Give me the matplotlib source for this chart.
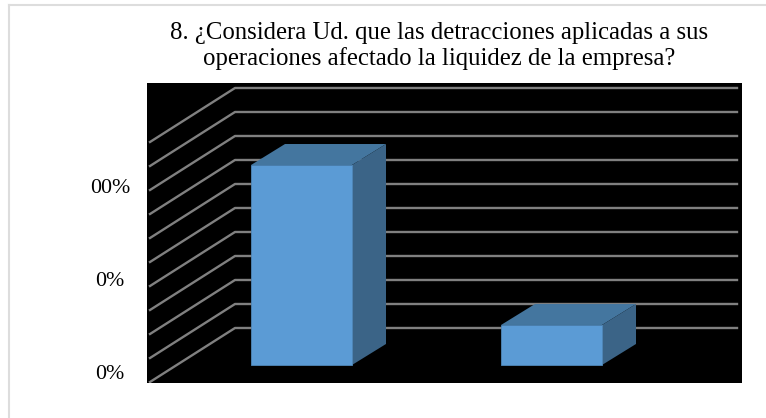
import matplotlib
matplotlib.use("Agg")
import matplotlib.pyplot as plt
from matplotlib.patches import Polygon
from matplotlib.lines import Line2D

plt.rcParams['font.family'] = ['Liberation Serif', 'DejaVu Serif']

title = "8. ¿Considera Ud. que las detracciones aplicadas a sus\noperaciones afectado la liquidez de la empresa?"
positions = [0, 1]
values = [83.33, 16.67]
grid_values = [0, 10, 20, 30, 40, 50, 60, 70, 80, 90, 100]
tick_labels = ["00%", "0%", "0%"]
tick_values = [73.4, 34.7, -4.0]

W, H = 766, 418
bar_width = 0.404
# depth of the bars and of the side wall, in data units
bar_dx, bar_dy = 0.136, 8.75
wall_x0, wall_x1, wall_x2 = -0.606, -0.266, 1.742
wall_y0 = -7.08
back_y0 = 15.42

fig = plt.figure(figsize=(W / 100, H / 100), dpi=100, facecolor='white')

# black plot area, 147..742 by 83..383 in pixels
ax = fig.add_axes([147 / W, 1 - 383 / H, 595 / W, 300 / H])
ax.set_facecolor('black')
ax.set_xlim(-0.618, 1.762)
ax.set_ylim(-7.5, 117.5)
ax.set_xticks([])
ax.set_yticks([])
for s in ax.spines.values():
    s.set_visible(False)

for v in grid_values:
    yb = back_y0 + v
    yf = wall_y0 + v
    ax.plot([wall_x0, wall_x1, wall_x2], [yf, yb, yb], color='#808080', lw=1.7, zorder=1,
            solid_joinstyle='round')

for x, v in zip(positions, values):
    l = x - bar_width / 2
    r = x + bar_width / 2
    ax.add_patch(Polygon([(l, v), (r, v), (r + bar_dx, v + bar_dy), (l + bar_dx, v + bar_dy)],
                         facecolor='#44769F', edgecolor='none', zorder=3))
    ax.add_patch(Polygon([(r, 0), (r + bar_dx, bar_dy), (r + bar_dx, v + bar_dy), (r, v)],
                         facecolor='#3B6487', edgecolor='none', zorder=3))
    ax.bar(x, v, width=bar_width, color='#5B9BD5', edgecolor='#4F87B8', linewidth=0.6, zorder=4)

# value labels to the left of the black area
for lab, v in zip(tick_labels, tick_values):
    ax.annotate(lab, (110 / W, v), xycoords=('figure fraction', 'data'),
                ha='center', va='center', fontsize=15.8, color='black')

fig.text(439 / W, 1 - 46 / H, title, ha='center', va='center', fontsize=17.8, color='black',
         linespacing=1.2)

# light frame of the pasted picture
fig.add_artist(Line2D([9 / W, 9 / W], [0, 1 - 5 / H], color='#dddddd', lw=1.5))
fig.add_artist(Line2D([9 / W, 1], [1 - 5 / H, 1 - 5 / H], color='#dddddd', lw=1.5))

fig.savefig("out.png", dpi=100)
